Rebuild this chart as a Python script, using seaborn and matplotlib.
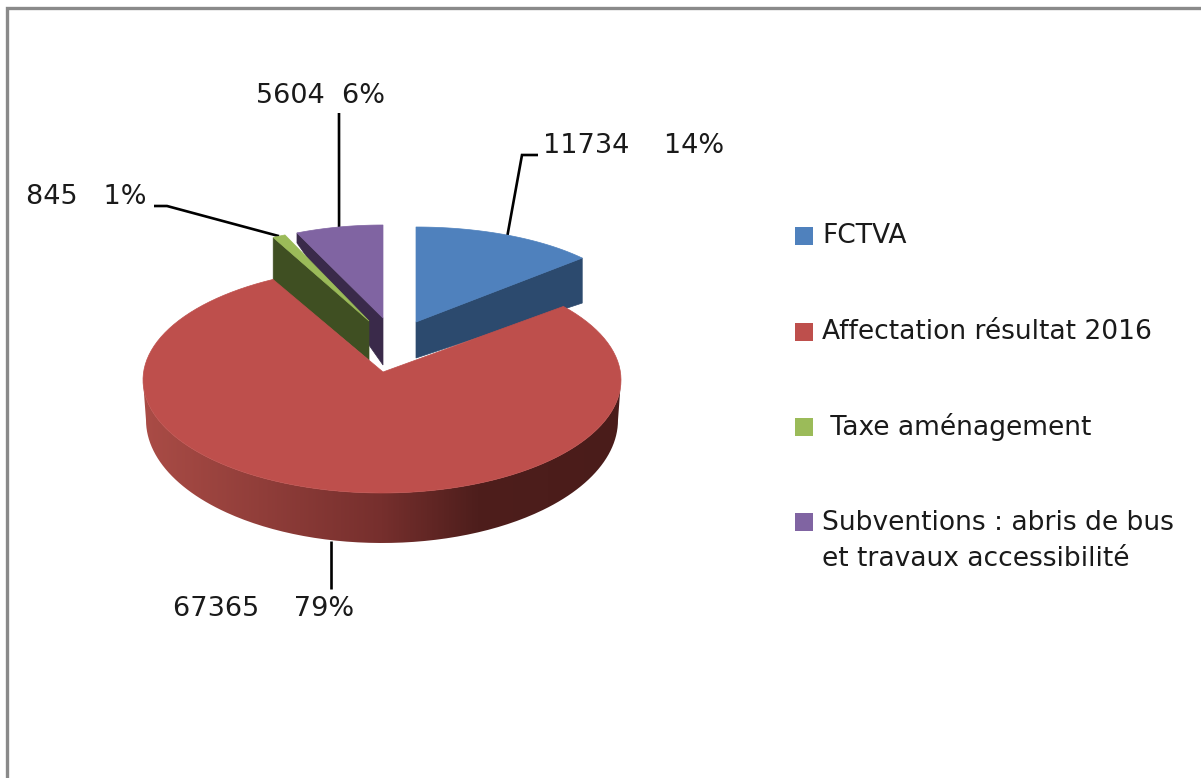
import numpy as np
import matplotlib.pyplot as plt
from matplotlib.colors import LinearSegmentedColormap
from matplotlib.patches import PathPatch, Polygon
from matplotlib.path import Path
import seaborn as sns

categories = ["FCTVA", "Affectation résultat 2016", " Taxe aménagement",
              "Subventions : abris de bus\net travaux accessibilité"]
values = [11734, 67365, 845, 5604]
percents = [14, 79, 1, 6]
label_gaps = ["    ", "    ", "   ", "  "]

top_colors = ["#4F81BD", "#BE4F4C", "#9BBB59", "#8064A2"]
side_colors = ["#2C4A6E", "#7A3230", "#3F4F22", "#3A2A4A"]

# geometrie par part : apex, centre ellipse, rx, ry, profondeur (pixels de l'image)
geom = [
    dict(apex=(416, 322), c=(416, 316), rx=219, ry=89, d0=36, d1=45),
    dict(apex=(383, 372), c=(382, 380), rx=239, ry=113, d0=50, d1=50),
    dict(apex=(369, 321), c=(369, 322), rx=210, ry=95, d0=39, d1=43),
    dict(apex=(383, 318), c=(383, 320), rx=215, ry=95, d0=47, d1=10),
]
leaders = [
    [(522, 155), (538, 155)],
    [(331, 589)],
    [(167, 206), (154, 206)],
    [(339, 113)],
]
label_pos = [(543, 146), (173, 609), (26, 197), (256, 96)]
legend_y = [236, 332, 427, 541]

sns.set_theme(style="white")
plt.rcParams["font.family"] = ["DejaVu Sans"]

fig, ax = plt.subplots(figsize=(12.01, 7.78), dpi=100)
fig.subplots_adjust(0, 0, 1, 1)
ax.axis("off")

# cadre gris : seulement haut et gauche, le reste sort de l'image
ax.plot([7, 7, 1201], [778, 8, 8], color="#8A8A8A", lw=2.4, solid_joinstyle="miter")

# angles depuis les valeurs, sens horaire depuis midi
fracs = np.array(values) / sum(values)
ends = np.cumsum(fracs) * 2 * np.pi
starts = ends - fracs * 2 * np.pi


def rim(g, a):
    return g["c"][0] + g["rx"] * np.sin(a), g["c"][1] - g["ry"] * np.cos(a)


def top_poly(i):
    a = np.linspace(starts[i], ends[i], 120)
    x, y = rim(geom[i], a)
    return np.vstack([[geom[i]["apex"]], np.column_stack([x, y])])


# faces de coupe des petites parts
for i in [3, 2, 0]:
    g = geom[i]
    ax_, ay_ = g["apex"]
    edge = ends[i] if i == 0 else starts[i]
    ex, ey = rim(g, edge)
    pts = [(ax_, ay_), (ex, ey), (ex, ey + g["d1"]), (ax_, ay_ + g["d0"])]
    ax.add_patch(Polygon(pts, closed=True, fc=side_colors[i], ec=side_colors[i], lw=0.5, zorder=2))
    ax.add_patch(Polygon(top_poly(i), closed=True, fc=top_colors[i], ec=top_colors[i], lw=0.5, zorder=3))

# flanc de la grande part en degrade
g = geom[1]
t = np.linspace(np.pi / 2, 3 * np.pi / 2, 200)
tx, ty = rim(g, t)
bx, by = 382 + 236 * np.sin(t), 420 - 123 * np.cos(t)
side = np.vstack([np.column_stack([tx, ty]), np.column_stack([bx, by])[::-1]])
cmap = LinearSegmentedColormap.from_list(
    "flanc", [(0, "#AA4C46"), (0.5, "#762F2D"), (0.7, "#4E1E1C"), (1, "#4A1C1A")])
im = ax.imshow(np.linspace(0, 1, 256)[None, :], cmap=cmap, aspect="auto",
               extent=(143, 621, 545, 375), zorder=4)
im.set_clip_path(PathPatch(Path(side), transform=ax.transData))
ax.add_patch(Polygon(top_poly(1), closed=True, fc=top_colors[1], ec=top_colors[1], lw=0.5, zorder=5))

# traits de rappel et etiquettes
for i in range(4):
    mid = (starts[i] + ends[i]) / 2
    x0, y0 = rim(geom[i], mid)
    if i == 1:
        x0, y0 = leaders[i][0][0], 541
    xs, ys = zip(*([(x0, y0)] + leaders[i]))
    ax.plot(xs, ys, color="black", lw=1.9, zorder=1 if i != 1 else 3,
            solid_joinstyle="miter", solid_capstyle="butt")
    lx, ly = label_pos[i]
    ax.text(lx, ly, f"{values[i]}{label_gaps[i]}{percents[i]}%", fontsize=19.5,
            color="#1A1A1A", ha="left", va="center")

# legende
sns.scatterplot(x=[804] * 4, y=[236, 332, 427, 522], hue=categories, palette=top_colors,
                marker="s", s=170, linewidth=0, legend=False, ax=ax, zorder=6)
for name, y in zip(categories, legend_y):
    ax.text(822, y, name, fontsize=19.1, color="#1A1A1A", ha="left", va="center", linespacing=1.45)

ax.set_xlim(0, 1201)
ax.set_ylim(778, 0)
fig.savefig("out.png", dpi=100)
